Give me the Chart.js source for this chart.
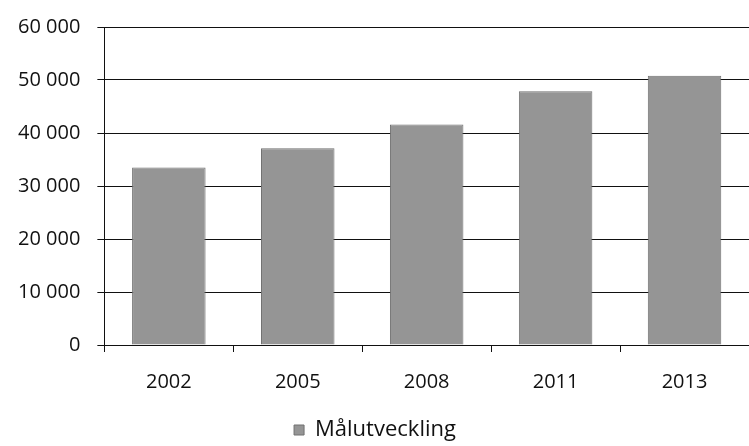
<!DOCTYPE html>
<html>
<head>
<meta charset="utf-8">
<script src="https://cdn.jsdelivr.net/npm/chart.js@4"></script>
<style>
html,body{margin:0;padding:0;background:#fff;}
#wrap{width:749px;height:446px;}
</style>
</head>
<body>
<div id="wrap"><canvas id="c" width="749" height="446"></canvas></div>
<script>
const categories = ['2002', '2005', '2008', '2011', '2013'];
const malutveckling = [33500, 37100, 41600, 47900, 50800];
const yTicks = [0, 10000, 20000, 30000, 40000, 50000, 60000];
const seriesName = 'Målutveckling';

const fontFam = '"Open Sans", "Noto Sans", sans-serif';
function fmt(v){ return String(v).replace(/\B(?=(\d{3})+(?!\d))/g, ' '); }

new Chart(document.getElementById('c'), {
  type: 'bar',
  data: {
    labels: categories,
    datasets: [{
      label: seriesName,
      data: malutveckling,
      backgroundColor: '#959595',
      borderColor: '#707070',
      borderWidth: 1,
      categoryPercentage: 0.57,
      barPercentage: 1.0
    }]
  },
  options: {
    responsive: false,
    animation: false,
    layout: { padding: { left: 1, right: 0, top: 12, bottom: -5 } },
    plugins: {
      legend: {
        position: 'bottom',
        labels: {
          font: { family: fontFam, size: 22 },
          color: '#111',
          boxWidth: 10, boxHeight: 10,
          padding: 8
        }
      },
      tooltip: { enabled: false }
    },
    scales: {
      x: {
        afterFit: (axis) => { axis.height -= 1; },
        grid: { display: true, drawOnChartArea: false, drawTicks: true, tickLength: 7, color: '#111', offset: true },
        border: { display: true, color: '#111', width: 1 },
        ticks: { font: { family: fontFam, size: 20 }, color: '#111', padding: 18 }
      },
      y: {
        min: 0, max: 60000,
        afterBuildTicks: (axis) => { axis.ticks = yTicks.map(v => ({ value: v })); },
        grid: { color: '#111', lineWidth: 1, drawTicks: true, tickLength: 7 },
        border: { display: true, color: '#111', width: 1 },
        ticks: { font: { family: fontFam, size: 20, lineHeight: 1 }, color: '#111', padding: 17, callback: (v) => fmt(v) }
      }
    }
  }
});
</script>
</body>
</html>
